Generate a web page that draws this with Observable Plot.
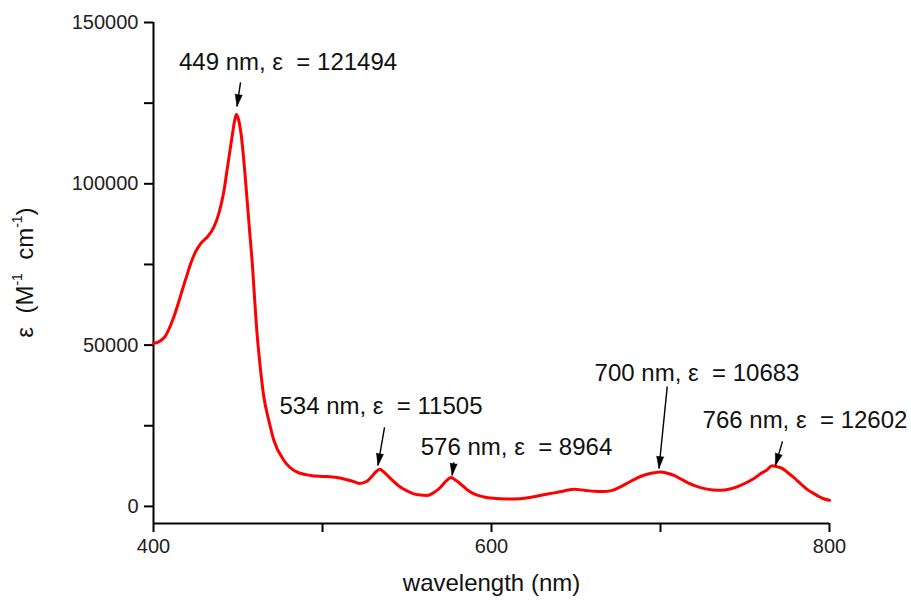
<!DOCTYPE html>
<html>
<head>
<meta charset="utf-8">
<script src="https://cdn.jsdelivr.net/npm/d3@7"></script>
<script src="https://cdn.jsdelivr.net/npm/@observablehq/plot@0.6"></script>
<style>
  html, body { margin: 0; padding: 0; background: #fff; }
  #chart svg { display: block; }
</style>
</head>
<body>
<div id="chart"></div>
<script>
// ---- data: UV-vis spectrum (wavelength nm, molar absorptivity) ----
const wavelengths = [400,404,407,410,412,415,417,420,422,425,427.8,431.8,435.7,438.6,441.6,443.6,446.6,448,449,450,451.8,453.8,455.4,457,458.5,459.5,460.9,462.9,465.3,468.2,471.2,477.1,485,493,500,506,511,515,519,522,526,529,532,534,536,539,543,546,550,554,558,562,566,570,573,576,579,582,586,590,595,601,609,617,624,631,637,643,649,655,661,666,671,676,681,686,691,696,700,704,708,712,716,721,726,731,736,741,746,751,756,760,763,766,769,772,775,779,783,787,791,794,797,800];
const epsilon = [50500,51300,52800,56000,58700,63500,67000,72000,75300,79000,81400,83500,86600,90700,97500,104500,115000,119500,121494,120500,115500,105200,94900,84500,75000,67000,56000,44500,33900,26700,20500,14300,10600,9600,9300,9100,8700,8200,7600,7100,7700,9200,10900,11505,10800,9300,7300,6000,4800,3900,3500,3400,4300,6000,7800,8964,8000,6800,5000,3800,3000,2500,2300,2400,2900,3600,4200,4800,5300,5000,4700,4600,4900,6000,7400,8800,9800,10400,10683,10300,9600,8500,7400,6300,5500,5100,5000,5400,6200,7400,8900,10400,11300,12602,12300,11800,10600,8900,7000,5200,3900,3000,2300,1900];

// ---- annotations ----
const peakLabels = ["449 nm, ε\u00a0 = 121494", "534 nm, ε\u00a0 = 11505", "576 nm, ε\u00a0 = 8964", "700 nm, ε\u00a0 = 10683", "766 nm, ε\u00a0 = 12602"];
const labelX = [479.6, 534.6, 614.8, 721.6, 785.5];
const labelY = [137640, 31000, 18290, 41230, 26660];
const arrowFromX = [451.5, 536.7, 577.7, 704.0, 772.2];
const arrowFromY = [131440, 24490, 13640, 37200, 20150];
const arrowToX = [449.4, 532.8, 576.7, 699.1, 768.0];
const arrowToY = [124000, 12710, 9610, 11780, 12710];

// ---- axis ticks ----
const xTicks = [400, 500, 600, 700, 800];
const xTickLabels = [400, 600, 800];
const yTicks = [0, 25000, 50000, 75000, 100000, 125000, 150000];
const yTickLabels = [0, 50000, 100000, 150000];
const xDomain = [400, 800];
const yDomain = [-5300, 150000];

const W = 911, H = 601;
const M = {top: 22, right: 82, bottom: 78, left: 153};

const spectrum = wavelengths.map((w, i) => ({w, e: epsilon[i]}));

const sx = Plot.scale({x: {domain: xDomain, range: [M.left, W - M.right]}});
const sy = Plot.scale({y: {domain: yDomain, range: [H - M.bottom, M.top]}});

const notes = peakLabels.map((t, i) => {
  const dx = sx.apply(arrowToX[i]) - sx.apply(arrowFromX[i]);
  const dy = sy.apply(arrowToY[i]) - sy.apply(arrowFromY[i]);
  return {
    t, lx: labelX[i], ly: labelY[i],
    x1: arrowFromX[i], y1: arrowFromY[i], x2: arrowToX[i], y2: arrowToY[i],
    angle: Math.atan2(dx, -dy) * 180 / Math.PI
  };
});

const font = "'Liberation Sans', Arial, sans-serif";

const plot = Plot.plot({
  width: W, height: H,
  marginTop: M.top, marginRight: M.right, marginBottom: M.bottom, marginLeft: M.left,
  style: {fontFamily: font, fontSize: "20px", color: "#000", background: "#fff"},
  x: {domain: xDomain},
  y: {domain: yDomain},
  marks: [
    Plot.axisX({ticks: xTicks, tickFormat: d => xTickLabels.includes(d) ? String(d) : "", tickSize: 9, tickPadding: 6, strokeWidth: 2, fontSize: 20, label: null, stroke: "#000", fill: "#222"}),
    Plot.axisY({ticks: yTicks, tickFormat: d => yTickLabels.includes(d) ? String(d) : "", tickSize: 9, tickPadding: 6, strokeWidth: 2, fontSize: 20, label: null, stroke: "#000", fill: "#222"}),
    Plot.ruleY([yDomain[0]], {stroke: "#000", strokeWidth: 2}),
    Plot.ruleX([xDomain[0]], {stroke: "#000", strokeWidth: 2}),
    Plot.line(spectrum, {x: "w", y: "e", stroke: "#ff0000", strokeWidth: 3, curve: "monotone-x"}),
    Plot.link(notes, {x1: "x1", y1: "y1", x2: "x2", y2: "y2", stroke: "#000", strokeWidth: 1.4}),
    Plot.vector(notes, {x: "x2", y: "y2", rotate: "angle", length: 12, r: 3.6, anchor: "end", shape: "spike", fill: "#000", stroke: "#000", strokeWidth: 0.5}),
    Plot.text(notes, {x: "lx", y: "ly", text: "t", fontSize: 24, fill: "#111", textAnchor: "middle", lineAnchor: "middle"}),
    Plot.text(["wavelength (nm)"], {frameAnchor: "bottom", dy: 60, fontSize: 24, fill: "#111", lineAnchor: "middle"})
  ]
});

// y-axis title with real superscripts
const svg = d3.select(plot);
const yTitle = svg.append("text")
  .attr("transform", `translate(27,${(M.top + H - M.bottom) / 2}) rotate(-90)`)
  .attr("text-anchor", "middle")
  .attr("dominant-baseline", "middle")
  .attr("font-family", font)
  .attr("font-size", 24)
  .attr("fill", "#111");
yTitle.append("tspan").text("ε\u00a0 (M");
yTitle.append("tspan").attr("dy", -9).attr("font-size", 14).text("-1");
yTitle.append("tspan").attr("dy", 9).text("\u00a0 cm");
yTitle.append("tspan").attr("dy", -9).attr("font-size", 14).text("-1");
yTitle.append("tspan").attr("dy", 9).text(")");

document.getElementById("chart").appendChild(plot);
</script>
</body>
</html>
